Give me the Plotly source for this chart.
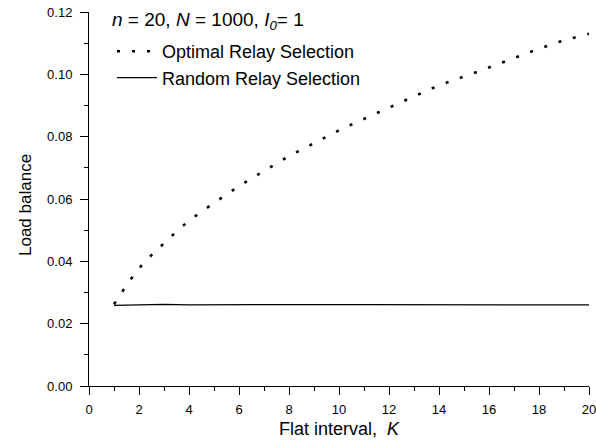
import plotly.graph_objects as go

K = list(range(1, 21))
optimal = [0.0262, 0.0377, 0.0458, 0.0530, 0.0587, 0.0641, 0.0690, 0.0737, 0.0779, 0.0820,
           0.0857, 0.0893, 0.0929, 0.0964, 0.0993, 0.1022, 0.1052, 0.1082, 0.1109, 0.1130]
random_sel = [0.0259, 0.0260, 0.0262, 0.0260, 0.0261, 0.0261, 0.0261, 0.0261, 0.0260, 0.0261,
              0.0261, 0.0261, 0.0261, 0.0261, 0.0261, 0.0260, 0.0261, 0.0261, 0.0260, 0.0260]
x_ticks = list(range(0, 21, 2))
y_ticks = [0.00, 0.02, 0.04, 0.06, 0.08, 0.10, 0.12]

FONT = "Liberation Sans, Arial, sans-serif"

W, H = 596, 443
PLOT_LEFT, PLOT_TOP, PLOT_RIGHT, PLOT_BOTTOM = 89, 12, 589, 386
L, T = PLOT_LEFT, PLOT_TOP
R, B = W - PLOT_RIGHT, H - PLOT_BOTTOM
plot_w = W - L - R
plot_h = H - T - B


def px_x(page_x):
    return (page_x - L) / plot_w


def px_y(page_y):
    return (H - B - page_y) / plot_h


fig = go.Figure()
fig.add_trace(go.Scatter(x=K, y=optimal, mode="lines", name="Optimal Relay Selection",
                         line=dict(color="black", width=2.6, dash="3px,12px", shape="spline")))
fig.add_trace(go.Scatter(x=K, y=random_sel, mode="lines", name="Random Relay Selection",
                         line=dict(color="black", width=1.3)))

axis_common = dict(showline=True, linecolor="black", linewidth=1, showgrid=False, zeroline=False,
                   ticks="outside", ticklen=8, tickwidth=1, tickcolor="black", automargin=False,
                   ticklabeloverflow="allow",
                   tickfont=dict(family=FONT, size=13, color="black"))

fig.update_xaxes(range=[0, 20], tickvals=x_ticks, ticktext=[str(v) for v in x_ticks],
                 minor=dict(dtick=1, ticks="outside", ticklen=4, tickcolor="black", showgrid=False),
                 ticklabelstandoff=3,
                 **axis_common)
fig.update_yaxes(range=[0, 0.12], tickvals=y_ticks, ticktext=[f"{v:.2f}" for v in y_ticks],
                 minor=dict(dtick=0.01, ticks="outside", ticklen=4, tickcolor="black", showgrid=False),
                 ticklabelstandoff=5,
                 **axis_common)

fig.update_layout(
    width=W, height=H,
    margin=dict(l=L, r=R, t=T, b=B),
    plot_bgcolor="white", paper_bgcolor="white",
    showlegend=True,
    legend=dict(x=px_x(112), y=px_y(33), xanchor="left", yanchor="top", bgcolor="rgba(0,0,0,0)",
                font=dict(family=FONT, size=18, color="black"), tracegroupgap=0,
                itemwidth=40),
    annotations=[
        dict(text="<i>n</i> = 20, <i>N</i> = 1000, <i>I</i><sub><i>0</i></sub>= 1",
             x=px_x(110), y=px_y(21), xref="paper", yref="paper",
             showarrow=False, font=dict(family=FONT, size=19, color="black"),
             xanchor="left", yanchor="middle"),
        dict(text="Flat interval,  <i>K</i>", x=px_x(339), y=px_y(429), xref="paper", yref="paper",
             showarrow=False, font=dict(family=FONT, size=18, color="black"),
             xanchor="center", yanchor="middle"),
        dict(text="Load balance", x=px_x(25), y=px_y(205), xref="paper", yref="paper", textangle=-90,
             showarrow=False, font=dict(family=FONT, size=17, color="black"),
             xanchor="center", yanchor="middle"),
    ],
)

fig.write_html("out.html", config={"displayModeBar": False},
               post_script="document.body.style.margin='0';")
